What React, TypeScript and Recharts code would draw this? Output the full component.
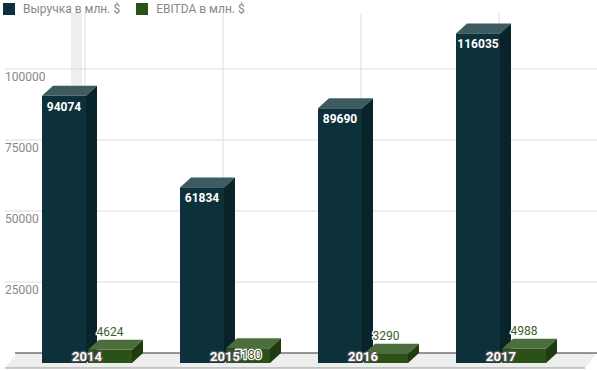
import React from 'react';
import { BarChart, Bar, XAxis, YAxis, CartesianGrid, Legend, LabelList } from 'recharts';

const years = ['2014', '2015', '2016', '2017'];
const revenue = [94074, 61834, 89690, 116035];
const ebitda = [4624, 5180, 3290, 4988];
const yTicks = [0, 25000, 50000, 75000, 100000];

const SERIES = [
  { key: 'revenue', name: 'Выручка в млн. $', front: '#0d313a', top: '#3d5b60', side: '#08232a' },
  { key: 'ebitda', name: 'EBITDA в млн. $', front: '#2a5117', top: '#4c6e3d', side: '#1e3c0f' },
];

const data = years.map((year, i) => ({ year, revenue: revenue[i], ebitda: ebitda[i] }));

// глубина 3D
const DX = 11;
const DY = 10;
const FONT = 'Roboto, sans-serif';

const Bar3D = ({ x, y, width, height, front, top, side }: any) => {
  if (!height || height <= 0) return <g />;
  return (
    <g>
      <polygon points={`${x},${y} ${x + DX},${y - DY} ${x + width + DX},${y - DY} ${x + width},${y}`} fill={top} />
      <polygon
        points={`${x + width},${y} ${x + width + DX},${y - DY} ${x + width + DX},${y + height - DY} ${x + width},${y + height}`}
        fill={side}
      />
      <rect x={x} y={y} width={width} height={height} fill={front} />
    </g>
  );
};

// пол и полоска слева (подложка под графиком)
const Floor = () => (
  <svg width={597} height={370} style={{ position: 'absolute', left: 0, top: 0 }}>
    <rect x={71} y={13} width={11} height={340} fill="#eeeeee" />
    <polygon points="17,353 597,353 585,368 5,368" fill="#eeeeee" />
    <line x1={5} y1={368} x2={585} y2={368} stroke="#999" strokeWidth={1} />
    <line x1={15} y1={353} x2={597} y2={353} stroke="#333" strokeWidth={1} />
  </svg>
);

const renderRevenueLabel = ({ x, y, width, value }: any) => (
  <text x={x + width / 2} y={y + 11} fill="#fff" fontSize={12} fontWeight="bold" fontFamily={FONT} textAnchor="middle" dominantBaseline="central">
    {value}
  </text>
);

const renderEbitdaLabel = ({ x, y, width, value }: any) => {
  // amCharts засунул 5180 внутрь столбика
  const inside = value > 5000;
  return (
    <text
      x={x + width / 2}
      y={inside ? y + 7 : y - 18}
      fill="#3b5e2b"
      stroke="#fff"
      strokeWidth={2.5}
      paintOrder="stroke"
      fontSize={12}
      fontFamily={FONT}
      textAnchor="middle"
      dominantBaseline="central"
    >
      {value}
    </text>
  );
};

// подписи годов поверх столбиков (как в оригинале), по центру кластера
const renderYearLabel = ({ x, value }: any) => (
  <text
    x={x - 1}
    y={356}
    fill="#fff"
    stroke="#555"
    strokeWidth={2.5}
    paintOrder="stroke"
    fontSize={13}
    fontWeight="bold"
    fontFamily={FONT}
    textAnchor="middle"
    dominantBaseline="central"
  >
    {value}
  </text>
);

const EmptyTick = () => <g />;

const ValueTick = ({ y, payload }: any) =>
  payload.value === 0 ? <g /> : (
    <text x={5} y={y - 2} fill="#888" fontSize={12} fontFamily={FONT} dominantBaseline="central">
      {payload.value}
    </text>
  );

const renderLegend = () => (
  <div style={{ display: 'flex', alignItems: 'center', fontFamily: FONT, fontSize: 12, color: '#888' }}>
    {SERIES.map((s, i) => (
      <div key={s.key} style={{ display: 'flex', alignItems: 'center', marginLeft: i === 0 ? 3 : 16 }}>
        <span style={{ width: 12, height: 12, background: s.front, display: 'inline-block', marginRight: 8 }} />
        <span>{s.name}</span>
      </div>
    ))}
  </div>
);

const App = () => (
  <div style={{ position: 'absolute', left: 0, top: 0, width: 597, height: 370, background: '#fff' }}>
    <Floor />
    <div style={{ position: 'absolute', left: 0, top: 0 }}>
      <BarChart width={597} height={370} data={data} margin={{ top: 8, right: 27, bottom: 0, left: 0 }} barCategoryGap={24} barGap={2}>
        <CartesianGrid
          horizontal={(p: any) =>
            p.y1 >= 360 || p.y1 < 30 ? <g key={p.key} /> : <line key={p.key} x1={5} x2={597} y1={p.y1 - DY} y2={p.y1 - DY} stroke="#ddd" />
          }
          vertical={(p: any) =>
            p.x1 < 30 || p.x1 > 560 ? <g key={p.key} /> : <line key={p.key} x1={p.x1 - 2} x2={p.x1 - 2} y1={13} y2={353} stroke="#ddd" />
          }
        />
        <XAxis dataKey="year" height={7} axisLine={false} tickLine={false} tick={<EmptyTick />} interval={0} />
        <YAxis width={18} domain={[0, 125000]} ticks={yTicks} axisLine={false} tickLine={false} tick={<ValueTick />} />
        <Legend verticalAlign="middle" align="center" layout="horizontal" content={renderLegend} wrapperStyle={{ top: 2, left: 0 }} />
        {SERIES.map((s) => (
          <Bar
            key={s.key}
            dataKey={s.key}
            name={s.name}
            fill={s.front}
            isAnimationActive={false}
            shape={(p: any) => <Bar3D {...p} front={s.front} top={s.top} side={s.side} />}
          >
            <LabelList dataKey={s.key} content={s.key === 'revenue' ? renderRevenueLabel : renderEbitdaLabel} />
            {s.key === 'ebitda' && <LabelList dataKey="year" content={renderYearLabel} />}
          </Bar>
        ))}
      </BarChart>
    </div>
  </div>
);

export default App;
